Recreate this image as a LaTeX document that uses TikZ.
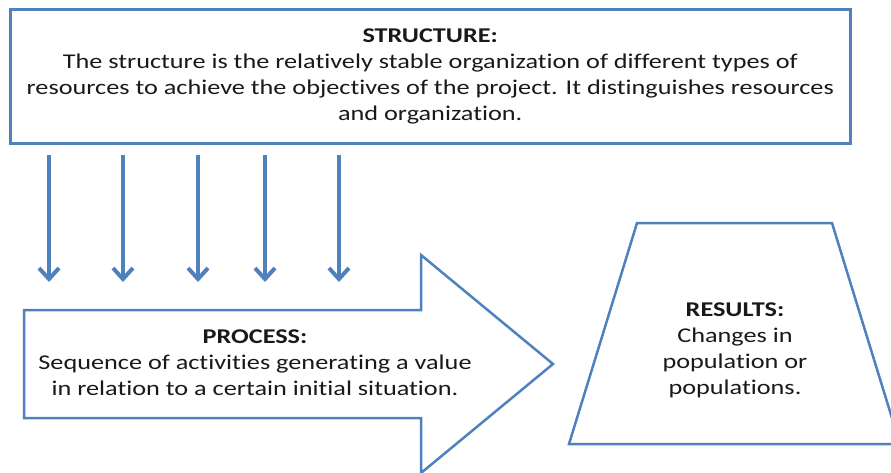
\documentclass[tikz,border=0pt]{standalone}
\usepackage{fontspec}
\setmainfont{Carlito}[FakeStretch=1.25,Ligatures=NoCommon]
\usetikzlibrary{arrows.meta}
\definecolor{boxblue}{HTML}{4F81BD}
\begin{document}
\begin{tikzpicture}[x=1pt,y=-1pt,
    frame/.style={draw=boxblue,line width=2.5pt},
    flow/.style={draw=boxblue,line width=3.5pt,-{Straight Barb[length=11pt,width=20pt,line width=4pt]}},
    txt/.style={align=center,font=\fontsize{21}{26}\selectfont,text=black!90}]
  \useasboundingbox (0,0) rectangle (891,472);
  \clip (0,0) rectangle (891,472);
  \node[frame,txt,anchor=north west,minimum width=840pt,minimum height=134pt,inner sep=0pt] (structure) at (9,8)
    {\textbf{STRUCTURE:}\\The structure is the relatively stable organization of different types of\\resources to achieve the objectives of the project. It distinguishes resources\\and organization.};
  \draw[frame] (24,310)--(421,310)--(421,255)--(553,364)--(421,473)--(421,418)--(24,418)--cycle;
  \node[txt] (process) at (255,363) {\textbf{PROCESS:}\\Sequence of activities generating a value\\in relation to a certain initial situation.};
  \draw[frame] (637,223)--(832,223)--(900,444)--(569,444)--cycle;
  \node[txt] (results) at (735,350) {\textbf{RESULTS:}\\Changes in\\population or\\populations.};
  \foreach \x [count=\i] in {49,123,198,265,339}{
    \coordinate (top\i) at (\x,155);
    \coordinate (tip\i) at (\x,282);
    \draw[flow] (top\i)--(tip\i);
  }
\end{tikzpicture}
\end{document}
